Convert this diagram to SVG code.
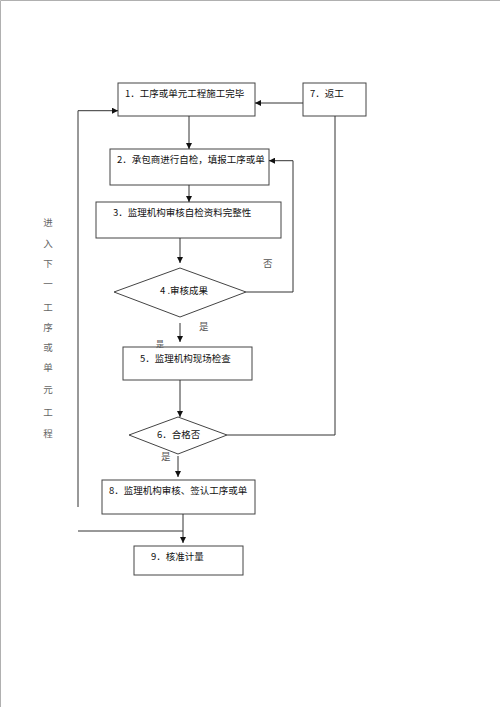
<svg xmlns="http://www.w3.org/2000/svg" width="500" height="707" viewBox="0 0 500 707">
<style>
.box{fill:#fff;stroke:#444;stroke-width:1}
.t{font-family:"Noto Sans CJK SC","Liberation Sans",sans-serif;font-size:9.5px;fill:#111}
.lbl{font-family:"Noto Sans CJK SC",sans-serif;font-size:9.5px;fill:#555}
.v{font-family:"Noto Sans CJK SC",sans-serif;font-size:9.5px;fill:#666;text-anchor:middle}
.ln{fill:none;stroke:#333;stroke-width:1}
</style>
<defs>
<marker id="ah" viewBox="0 0 10 10" refX="10" refY="5" markerWidth="6" markerHeight="6" markerUnits="userSpaceOnUse" orient="auto">
<path d="M0,0 L10,5 L0,10 z" fill="#111"/>
</marker>
</defs>
<rect width="500" height="707" fill="#fff"/>
<path d="M0.5,707 V0.5 H500" fill="none" stroke="#b0b0b0" stroke-width="1"/>

<g id="node1">
<rect class="box" x="118" y="83" width="137" height="33"/>
<text class="t" x="125" y="97">1．工序或单元工程施工完毕</text>
</g>
<g id="node7">
<rect class="box" x="303" y="83" width="63" height="33"/>
<text class="t" x="310" y="97">7．返工</text>
</g>
<g id="node2">
<rect class="box" x="110" y="149" width="159" height="36"/>
<text class="t" x="117" y="163">2．承包商进行自检，填报工序或单</text>
</g>
<g id="node3">
<rect class="box" x="96" y="202" width="185" height="36"/>
<text class="t" x="113" y="216">3．监理机构审核自检资料完整性</text>
</g>
<g id="node4">
<path class="box" d="M180,268 L246,292 L180,317 L114,292 Z"/>
<text class="t" x="160" y="294">4 .审核成果</text>
</g>
<g id="node5">
<rect class="box" x="123" y="347" width="129" height="33"/>
<text class="t" x="140" y="362">5．监理机构现场检查</text>
</g>
<g id="node6">
<path class="box" d="M178,417 L227,435 L178,454 L129,435 Z"/>
<text class="t" x="157" y="438">6．合格否</text>
</g>
<g id="node8">
<rect class="box" x="102" y="480" width="153" height="34"/>
<text class="t" x="109" y="494">8．监理机构审核、签认工序或单</text>
</g>
<g id="node9">
<rect class="box" x="134" y="546" width="109" height="29"/>
<text class="t" x="151" y="560">9．核准计量</text>
</g>

<g id="connectors">
<path class="ln" d="M303,103 H255" marker-end="url(#ah)"/>
<path class="ln" d="M78,507 V110.7 H118" marker-end="url(#ah)"/>
<path class="ln" d="M189,116 V149" marker-end="url(#ah)"/>
<path class="ln" d="M246,292 H293 V160.7 H269" marker-end="url(#ah)"/>
<path class="ln" d="M189,185 V202" marker-end="url(#ah)"/>
<path class="ln" d="M180,238 V263" marker-end="url(#ah)"/>
<path class="ln" d="M180,323 V342" marker-end="url(#ah)"/>
<path class="ln" d="M180,380 V417" marker-end="url(#ah)"/>
<path class="ln" d="M227,435 H335 V116"/>
<path class="ln" d="M178,456 V477" marker-end="url(#ah)"/>
<path class="ln" d="M78,531 H183"/>
<path class="ln" d="M183,514 V543" marker-end="url(#ah)"/>
<text class="lbl" x="263" y="267">否</text>
<text class="lbl" x="199" y="330">是</text>
<text class="lbl" x="156" y="347" style="font-size:8px">是</text>
<text class="lbl" x="161" y="460">是</text>
</g>

<g id="sidetext">
<text class="v" x="48" y="226">进</text>
<text class="v" x="48" y="247">入</text>
<text class="v" x="48" y="267">下</text>
<text class="v" x="48" y="287">一</text>
<text class="v" x="48" y="311">工</text>
<text class="v" x="48" y="331">序</text>
<text class="v" x="48" y="351">或</text>
<text class="v" x="48" y="371">单</text>
<text class="v" x="48" y="393">元</text>
<text class="v" x="48" y="416">工</text>
<text class="v" x="48" y="437">程</text>
</g>
</svg>
